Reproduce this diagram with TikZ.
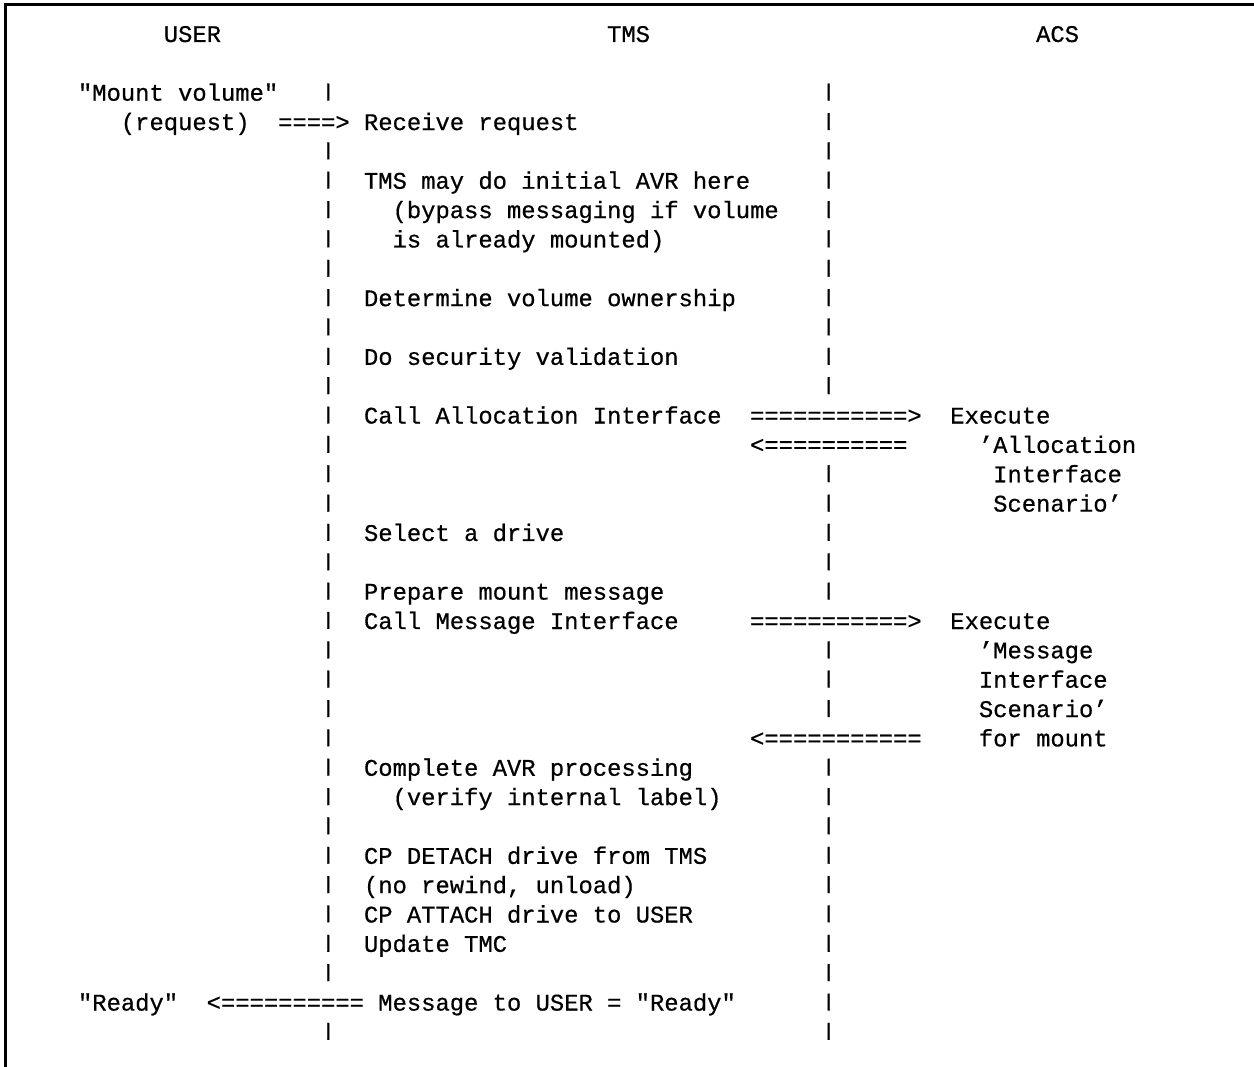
\documentclass[tikz,border=0pt]{standalone}
\usepackage{fontspec}
\usepackage{graphicx}
\newfontfamily\gridfont[FakeBold=0.6]{Liberation Mono}
\newcommand{\lifebar}{\raisebox{2.3pt}{\scalebox{1}[0.76]{|}}}

\begin{document}
\begin{tikzpicture}[
x=8.58pt, y=-17.61pt,
txt/.style={anchor=base west, inner sep=0pt, outer sep=0pt,
  font=\gridfont\fontsize{14.3pt}{17.6pt}\selectfont},
frame/.style={line width=1.8pt, line join=miter}
]
    % page and frame
    \useasboundingbox (-5.4545,-1.431) rectangle (82.238,34.923);
    \draw[frame] (-5.035,34.923) -- (-5.035,-1.2606) -- (82.238,-1.2606);

    % column heads
    \node[txt] (user) at (6,0) {USER};
    \node[txt] (tms) at (37,0) {TMS};
    \node[txt] (acs) at (67,0) {ACS};

    % TMS life lines
    \foreach \r in {2,4,5,6,7,8,9,10,11,12,13,14,15,16,17,18,19,20,21,22,23,24,25,26,27,28,29,30,31,32,34}
      \node[txt] (tl-\r) at (17,\r) {\lifebar};
    \foreach \r in {2,3,4,5,6,7,8,9,10,11,12,15,16,17,18,19,21,22,23,25,26,27,28,29,30,31,32,33,34}
      \node[txt] (tr-\r) at (52,\r) {\lifebar};

    % user request
    \node[txt] (mount) at (0,2) {"Mount volume"};
    \node[txt] (request) at (3,3) {(request)};
    \node[txt] (reqarrow) at (14,3) {====>};
    \node[txt] (receive) at (20,3) {Receive request};

    % TMS steps
    \node[txt] (avr) at (20,5) {TMS may do initial AVR here};
    \node[txt] (bypass) at (22,6) {(bypass messaging if volume};
    \node[txt] (mounted) at (22,7) {is already mounted)};
    \node[txt] (owner) at (20,9) {Determine volume ownership};
    \node[txt] (security) at (20,11) {Do security validation};

    % allocation interface
    \node[txt] (callalloc) at (20,13) {Call Allocation Interface};
    \node[txt] (allocout) at (47,13) {===========>};
    \node[txt] (exalloc) at (61,13) {Execute};
    \node[txt] (allocin) at (47,14) {<==========};
    \node[txt] (alloca) at (63,14) {’Allocation};
    \node[txt] (allocb) at (64,15) {Interface};
    \node[txt] (allocc) at (64,16) {Scenario’};

    \node[txt] (drive) at (20,17) {Select a drive};
    \node[txt] (prepare) at (20,19) {Prepare mount message};

    % message interface
    \node[txt] (callmsg) at (20,20) {Call Message Interface};
    \node[txt] (msgout) at (47,20) {===========>};
    \node[txt] (exmsg) at (61,20) {Execute};
    \node[txt] (msga) at (63,21) {’Message};
    \node[txt] (msgb) at (63,22) {Interface};
    \node[txt] (msgc) at (63,23) {Scenario’};
    \node[txt] (msgin) at (47,24) {<===========};
    \node[txt] (msgd) at (63,24) {for mount};

    \node[txt] (complete) at (20,25) {Complete AVR processing};
    \node[txt] (verify) at (22,26) {(verify internal label)};
    \node[txt] (detach) at (20,28) {CP DETACH drive from TMS};
    \node[txt] (rewind) at (20,29) {(no rewind, unload)};
    \node[txt] (attach) at (20,30) {CP ATTACH drive to USER};
    \node[txt] (tmc) at (20,31) {Update TMC};

    % reply to user
    \node[txt] (ready) at (0,33) {"Ready"};
    \node[txt] (readyarrow) at (9,33) {<==========};
    \node[txt] (tomsg) at (21,33) {Message to USER = "Ready"};
\end{tikzpicture}
\end{document}
